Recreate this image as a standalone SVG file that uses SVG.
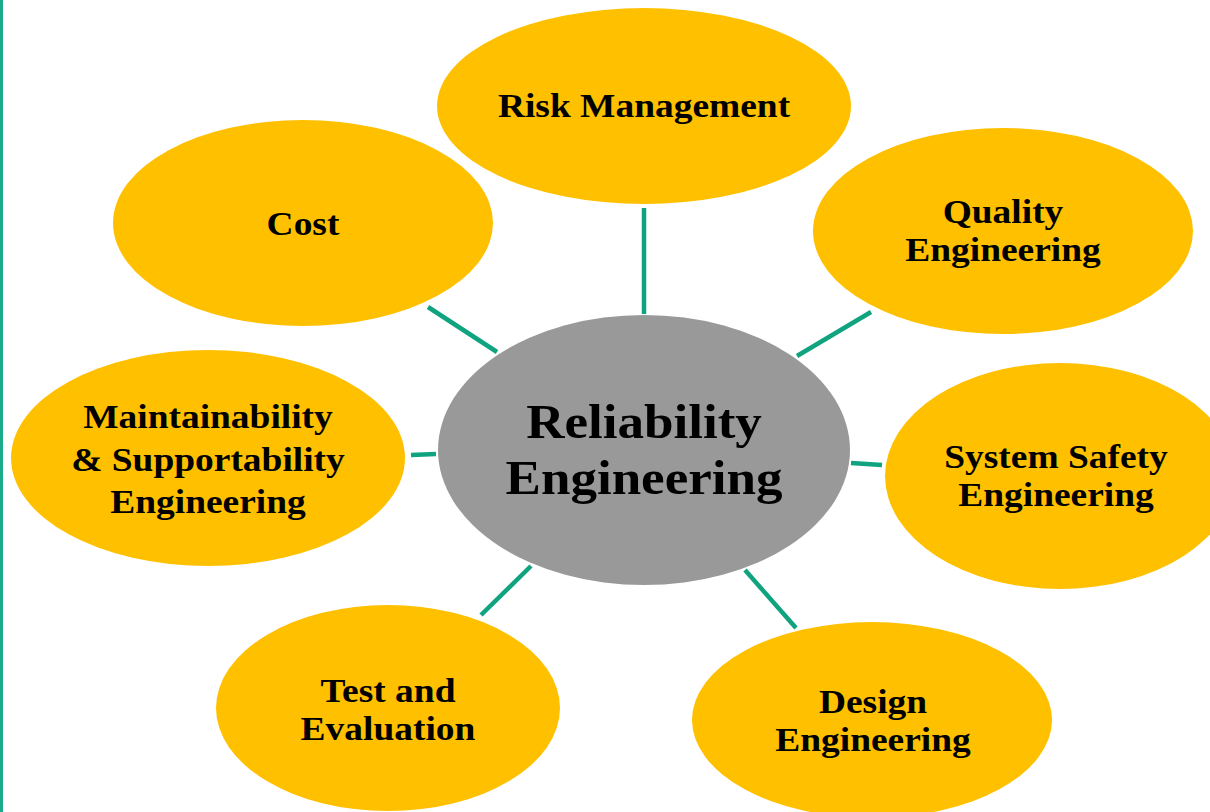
<svg xmlns="http://www.w3.org/2000/svg" width="1210" height="812" viewBox="0 0 1210 812">
<style>
.sat{fill:#FFC000}
.hub{fill:#999999}
.t{font-family:"Liberation Serif","Times New Roman",serif;font-weight:bold;fill:#000;text-anchor:middle}
.s{font-size:33px}
.c{font-size:48px}
.con line{stroke:#0FA37F;stroke-width:4.5}
</style>
<rect width="1210" height="812" fill="#fff"/>
<line x1="1.5" y1="0" x2="1.5" y2="812" stroke="#1AAB8A" stroke-width="3"/>
<g id="connectors" class="con">
<line x1="644" y1="208" x2="644" y2="314"/>
<line x1="428" y1="307" x2="497" y2="352"/>
<line x1="871" y1="312" x2="797" y2="356"/>
<line x1="411" y1="455" x2="436" y2="454"/>
<line x1="851" y1="463" x2="882" y2="465"/>
<line x1="531" y1="566" x2="481" y2="615"/>
<line x1="745" y1="570" x2="796" y2="628"/>
</g>
<g id="risk"><ellipse class="sat" cx="644" cy="106" rx="207" ry="98"/><g transform="translate(644,0) scale(1.135,1)"><text class="t s" x="0" y="117">Risk Management</text></g></g>
<g id="cost"><ellipse class="sat" cx="303" cy="223" rx="190" ry="103"/><g transform="translate(303,0) scale(1.135,1)"><text class="t s" x="0" y="235">Cost</text></g></g>
<g id="quality"><ellipse class="sat" cx="1003" cy="231" rx="190" ry="103"/><g transform="translate(1003,0) scale(1.135,1)"><text class="t s" x="0" y="223">Quality</text><text class="t s" x="0" y="261">Engineering</text></g></g>
<g id="maintainability"><ellipse class="sat" cx="208" cy="458" rx="197" ry="108"/><g transform="translate(208,0) scale(1.135,1)"><text class="t s" x="0" y="428">Maintainability</text><text class="t s" x="0" y="471">&amp; Supportability</text><text class="t s" x="0" y="513">Engineering</text></g></g>
<g id="safety"><ellipse class="sat" cx="1060" cy="476" rx="175" ry="113"/><g transform="translate(1056,0) scale(1.135,1)"><text class="t s" x="0" y="468">System Safety</text><text class="t s" x="0" y="506">Engineering</text></g></g>
<g id="test"><ellipse class="sat" cx="388" cy="708" rx="172" ry="103"/><g transform="translate(388,0) scale(1.135,1)"><text class="t s" x="0" y="702">Test and</text><text class="t s" x="0" y="740">Evaluation</text></g></g>
<g id="design"><ellipse class="sat" cx="872" cy="720" rx="180" ry="98"/><g transform="translate(873,0) scale(1.135,1)"><text class="t s" x="0" y="713">Design</text><text class="t s" x="0" y="751">Engineering</text></g></g>
<g id="hub"><ellipse class="hub" cx="644" cy="450" rx="206" ry="135"/><g transform="translate(644,0) scale(1.105,1)"><text class="t c" x="0" y="438">Reliability</text><text class="t c" x="0" y="494">Engineering</text></g></g>
</svg>
